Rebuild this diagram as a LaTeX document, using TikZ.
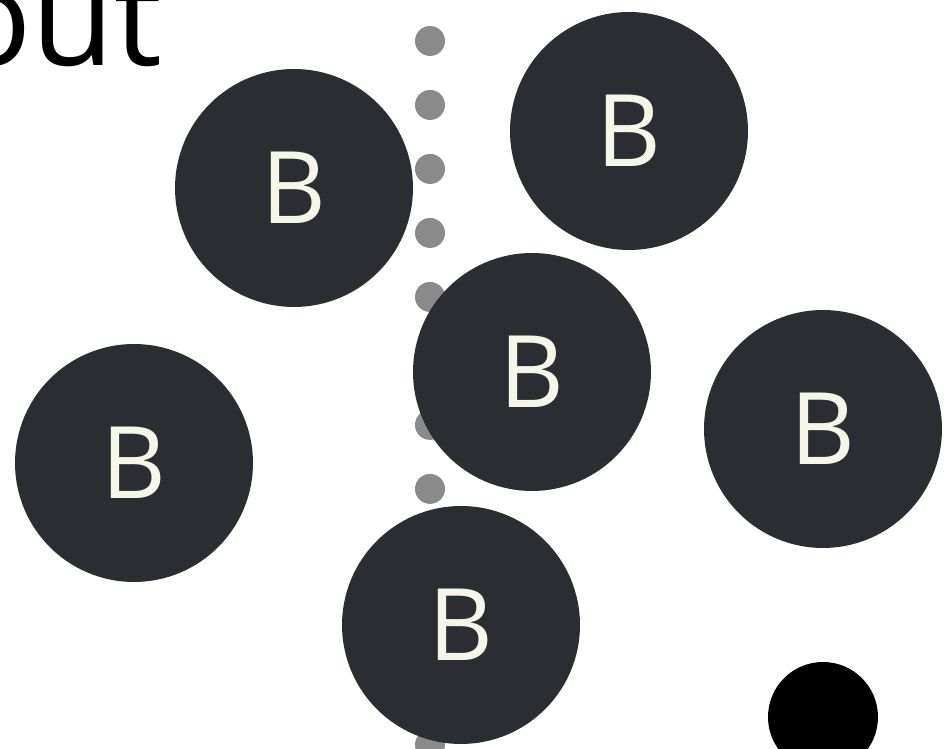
\documentclass[tikz,border=0pt]{standalone}
\usepackage{fontspec}
\setmainfont{Open Sans}
\usepackage{xcolor}
\usetikzlibrary{positioning}
\definecolor{ballSlate}{RGB}{42,45,50}
\definecolor{letterCream}{RGB}{245,245,232}
\definecolor{railGrey}{RGB}{138,138,138}

\begin{document}
\begin{tikzpicture}[
            x=0.02cm, y=-0.02cm,
            ball/.style={circle, fill=ballSlate, minimum size=4.76cm, inner sep=0pt, text=letterCream, font=\fontsize{57}{57}\selectfont},
            marker/.style={circle, fill=black, minimum size=2.2cm, inner sep=0pt},
            rail/.style={railGrey, line width=0.6cm, line cap=round, dash pattern=on 0pt off 1.28cm}
        ]
            \useasboundingbox (0,0) rectangle (944,749);
            \clip (0,0) rectangle (944,749);
            \fill[white] (0,0) rectangle (944,749);

            \node[anchor=base east, inner sep=0pt, font=\fontsize{77}{77}\selectfont] (title) at (163,66) {out};

            % balls that stay clear of the rail
            \node[ball] (ballUL) at (294,188) {B};
            \node[ball] (ballUR) at (629,131) {B};
            \node[ball] (ballL) at (134,463) {B};
            \node[ball] (ballR) at (823,429) {B};

            % dotted rail
            \coordinate (railTop) at (430,-23);
            \coordinate (railEnd) at (430,760);
            \draw[rail] (railTop) -- (railEnd);

            % balls on top of the rail
            \node[ball] (ballM) at (532,372) {B};
            \node[ball] (ballB) at (461,625) {B};

            \node[marker] (puck) at (823,717) {};
        \end{tikzpicture}
\end{document}
